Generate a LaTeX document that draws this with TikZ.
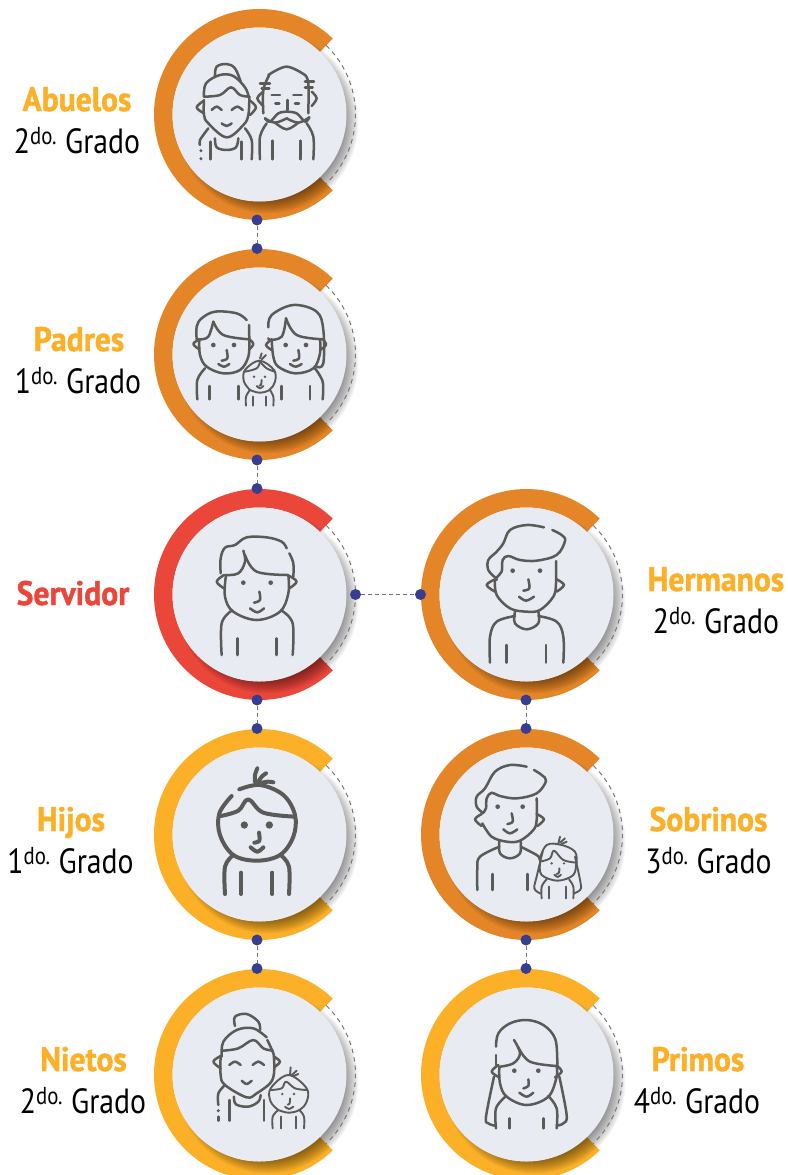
\documentclass[tikz,border=0pt]{standalone}
\usepackage{fontspec}
\setmainfont{PT Sans}[FakeStretch=0.85]
\newfontfamily\namefont{PT Sans}[FakeStretch=0.93,BoldFeatures={FakeBold=1.3}]
\usetikzlibrary{calc}
\definecolor{ringorange}{HTML}{E48527}
\definecolor{ringred}{HTML}{EA463A}
\definecolor{ringyellow}{HTML}{FBB028}
\definecolor{discgray}{HTML}{E9EBF2}
\definecolor{dotblue}{HTML}{373D8F}
\definecolor{linegray}{HTML}{777777}
\definecolor{icongray}{HTML}{5A5A58}
\tikzset{
  dot/.style={circle,fill=dotblue,inner sep=0pt,minimum size=11pt},
  link/.style={draw=linegray,line width=1pt,dash pattern=on 4pt off 3pt},
  title/.style={anchor=base,inner sep=0pt,font=\namefont\fontsize{34}{34}\selectfont\bfseries,text=ringyellow},
  grade/.style={anchor=base,inner sep=0pt,font=\fontsize{35}{35}\selectfont,text=black},
  iconline/.style={draw=icongray,line cap=round,line join=round},
  icon/.style={scale=1/3,line width=2.5pt},
}
\begin{document}
\begin{tikzpicture}[x=1pt,y=-1pt]
%
\def\ro{105.5};
\def\ri{87};
\def\rd{96};
\def\cut{46};
%
\useasboundingbox (0,0) rectangle (787,1175);
\clip (0,0) rectangle (787,1175);
%
% ring, shadow, dashed arc, disc
\def\badge#1#2#3#4{
  \coordinate (#1) at (#2,#3);
  \fill[#4] ($(#1)+(\cut:\ro)$) arc[start angle=\cut,end angle=360-\cut,radius=\ro]
    -- ($(#1)+(360-\cut:\ri)$) arc[start angle=360-\cut,end angle=\cut,radius=\ri] -- cycle;
  \foreach \r in {91,90,...,77}
    \fill[black,opacity=.035] ($(#1)+(8,8)$) circle (\r);
  \draw[linegray,line width=1pt,dash pattern=on 4.5pt off 4pt] ($(#1)+(360-\cut:\rd)$) arc[start angle=360-\cut,end angle=360+\cut,radius=\rd];
  \fill[discgray] (#1) circle (\ri);
};
\def\cv#1{\draw[iconline] plot[smooth,tension=.6] coordinates {#1};};
\def\eye#1#2{\fill[icongray] #1 circle (#2);};
%
\badge{abuelos}{259.5}{114.5}{ringorange}
\badge{padres}{259.5}{354.5}{ringorange}
\badge{servidor}{259.5}{594.5}{ringred}
\badge{hijos}{259.5}{834.5}{ringyellow}
\badge{nietos}{259.5}{1074.5}{ringyellow}
\badge{hermanos}{526.5}{594.5}{ringorange}
\badge{sobrinos}{526.5}{834.5}{ringorange}
\badge{primos}{526.5}{1074.5}{ringyellow}
%
\node[dot] (abuelosB) at (257,220) {};
\node[dot] (padresT) at (257,248.5) {};
\node[dot] (padresB) at (257,460) {};
\node[dot] (servidorT) at (257,488.5) {};
\node[dot] (servidorB) at (257,700) {};
\node[dot] (servidorR) at (355.5,594.5) {};
\node[dot] (hijosT) at (257,728.5) {};
\node[dot] (hijosB) at (257,940) {};
\node[dot] (nietosT) at (257,968.5) {};
\node[dot] (hermanosL) at (420.5,594.5) {};
\node[dot] (hermanosB) at (526,700) {};
\node[dot] (sobrinosT) at (526,728.5) {};
\node[dot] (sobrinosB) at (526,940) {};
\node[dot] (primosT) at (526,968.5) {};
%
\draw[link] (abuelosB)--(padresT);
\draw[link] (padresB)--(servidorT);
\draw[link] (servidorB)--(hijosT);
\draw[link] (hijosB)--(nietosT);
\draw[link] (servidorR)--(hermanosL);
\draw[link] (hermanosB)--(sobrinosT);
\draw[link] (sobrinosB)--(primosT);
%
\node[title] (abuelosName) at (77,111) {Abuelos};
\node[grade] (abuelosGrade) at (77,153.7) {2\textsuperscript{do.} Grado};
\node[title] (padresName) at (79,351) {Padres};
\node[grade] (padresGrade) at (78,393.7) {1\textsuperscript{do.} Grado};
\node[title,text=ringred] (servidorName) at (73,605) {Servidor};
\node[title] (hermanosName) at (716,591) {Hermanos};
\node[grade] (hermanosGrade) at (716,633.7) {2\textsuperscript{do.} Grado};
\node[title] (hijosName) at (71,831) {Hijos};
\node[grade] (hijosGrade) at (70.5,873.7) {1\textsuperscript{do.} Grado};
\node[title] (sobrinosName) at (708.5,831) {Sobrinos};
\node[grade] (sobrinosGrade) at (708.5,873.7) {3\textsuperscript{do.} Grado};
\node[title] (nietosName) at (83.5,1071) {Nietos};
\node[grade] (nietosGrade) at (83,1113.7) {2\textsuperscript{do.} Grado};
\node[title] (primosName) at (698,1071) {Primos};
\node[grade] (primosGrade) at (697,1113.7) {4\textsuperscript{do.} Grado};
%
% abuelos
\begin{scope}[shift={(0,0)},icon]
\cv{(645,228)(650,200)(680,192)(705,205)(722,245)}
\cv{(612,290)(618,250)(660,225)(700,228)(735,262)(746,290)}
\cv{(612,290)(660,285)(693,262)(720,285)(748,290)}
\cv{(612,302)(590,322)(612,340)}
\cv{(750,302)(768,322)(750,345)}
\cv{(612,300)(612,345)(625,370)(680,412)(730,375)(745,345)(748,290)}
\cv{(635,330)(650,320)(665,330)}
\cv{(695,330)(712,320)(728,330)}
\cv{(665,370)(680,378)(695,370)}
\cv{(645,415)(650,442)(680,450)(708,442)(715,415)}
\cv{(625,385)(600,420)(600,435)}
\eye{(603,452)}{5}
\eye{(603,476)}{5}
\cv{(632,425)(632,478)}
\cv{(725,425)(725,478)}
\cv{(735,385)(755,420)(755,478)}
\cv{(805,225)(860,200)(915,225)}
\cv{(780,250)(810,250)}
\cv{(785,265)(808,265)}
\cv{(915,245)(942,245)}
\cv{(915,262)(938,262)}
\cv{(790,275)(772,295)(790,318)}
\cv{(935,275)(950,295)(935,318)}
\cv{(808,225)(790,270)(790,340)}
\cv{(915,225)(925,250)(925,340)}
\cv{(815,285)(840,285)}
\cv{(880,285)(905,285)}
\cv{(826,310)(838,310)}
\cv{(885,310)(897,310)}
\cv{(862,300)(862,330)}
\cv{(860,335)(835,340)(810,365)(795,355)}
\cv{(795,355)(825,368)(860,355)}
\cv{(860,335)(890,340)(915,365)(928,352)}
\cv{(928,352)(895,368)(860,355)}
\cv{(825,368)(860,388)(895,368)}
\cv{(800,370)(780,410)(780,478)}
\cv{(920,370)(940,410)(940,478)}
\cv{(818,422)(818,478)}
\cv{(902,422)(902,478)}
\end{scope}
%
% padres
\begin{scope}[shift={(150,240)},icon]
\cv{(140,298)(140,260)(155,235)(195,215)(260,220)(290,240)}
\cv{(297,255)(298,300)}
\cv{(150,298)(175,290)(190,245)}
\cv{(190,245)(220,285)(298,298)}
\cv{(148,298)(130,312)(148,328)}
\cv{(298,298)(310,312)(298,328)}
\cv{(148,298)(150,345)(170,380)(220,400)(270,390)(295,350)(298,298)}
\eye{(190,315)}{7}
\eye{(252,315)}{7}
\cv{(230,330)(232,355)(215,362)}
\cv{(205,372)(222,380)(238,372)}
\cv{(165,385)(142,420)(142,478)}
\cv{(178,438)(178,478)}
\cv{(265,438)(265,478)}
\cv{(355,262)(365,225)(430,195)(500,215)(520,270)(520,370)(500,380)}
\cv{(355,295)(357,300)}
\cv{(357,300)(395,290)(408,235)}
\cv{(408,235)(440,285)(520,298)}
\cv{(365,298)(348,315)(365,330)}
\cv{(520,300)(528,315)(510,330)}
\cv{(365,298)(370,350)(385,380)(435,400)(490,385)(510,340)(510,298)}
\eye{(407,315)}{7}
\eye{(468,315)}{7}
\cv{(445,330)(447,355)(430,362)}
\cv{(420,372)(437,380)(455,372)}
\cv{(495,385)(518,425)(518,478)}
\cv{(395,438)(395,478)}
\cv{(480,438)(480,478)}
\begin{scope}[line width=1.9pt]
\cv{(300,450)(282,425)(285,390)(328,362)(372,390)(375,425)(358,450)(328,458)(300,450)}
\cv{(285,395)(320,385)(330,365)}
\cv{(330,365)(350,385)(375,395)}
\cv{(330,355)(335,340)}
\cv{(335,358)(348,345)}
\eye{(312,410)}{4}
\eye{(345,410)}{4}
\cv{(335,420)(333,435)(328,437)}
\cv{(320,438)(330,445)(340,438)}
\cv{(300,450)(288,470)(288,497)}
\cv{(360,450)(370,470)(370,497)}
\cv{(310,470)(310,497)}
\cv{(348,470)(348,497)}
\end{scope}
\end{scope}
%
% servidor
\begin{scope}[shift={(150,480)},icon]
\cv{(212,280)(212,235)(225,203)(255,195)(290,172)(350,172)(395,185)(410,205)}
\cv{(418,220)(430,250)(430,290)}
\cv{(225,285)(265,280)(285,245)(280,212)}
\cv{(285,225)(320,275)(415,285)}
\cv{(222,285)(200,305)(222,325)}
\cv{(418,288)(440,305)(418,325)}
\cv{(228,285)(225,350)(250,395)(320,420)(390,395)(415,340)(415,285)}
\eye{(280,308)}{7}
\eye{(362,308)}{7}
\cv{(328,335)(330,360)(312,368)}
\cv{(300,385)(322,397)(342,385)}
\cv{(245,392)(215,430)(215,525)}
\cv{(395,392)(428,430)(428,525)}
\cv{(262,475)(262,525)}
\cv{(380,475)(380,525)}
\end{scope}
%
% hermanos
\begin{scope}[shift={(340,480)},icon]
\cv{(612,142)(560,135)(510,150)(490,190)(470,215)(445,240)(445,270)(465,292)}
\cv{(637,150)(665,165)(675,183)(650,225)(590,242)(540,240)(505,228)(488,240)(485,275)(470,292)(470,300)}
\cv{(465,298)(440,315)(465,335)}
\cv{(650,298)(672,315)(650,335)}
\cv{(648,243)(648,310)(640,350)(600,390)(560,395)(510,385)(470,345)(465,300)}
\eye{(518,272)}{7}
\eye{(600,272)}{7}
\cv{(565,298)(568,325)(550,332)}
\cv{(537,350)(558,362)(582,350)}
\cv{(525,395)(525,430)(560,448)(595,430)(595,395)}
\cv{(525,408)(470,425)(450,470)(450,548)}
\cv{(595,408)(650,425)(670,470)(670,548)}
\cv{(500,495)(500,548)}
\cv{(618,495)(618,548)}
\end{scope}
%
% hijos
\begin{scope}[shift={(150,720)},icon,line width=4pt]
\cv{(268,208)(330,195)(400,225)(435,285)(430,350)(390,405)(320,422)(250,405)(210,345)(208,280)(245,228)}
\cv{(212,288)(265,272)(295,238)(340,278)(435,290)}
\cv{(315,185)(315,165)(322,145)}
\cv{(325,185)(335,170)(348,160)}
\cv{(335,188)(355,185)(370,187)}
\eye{(283,315)}{11}
\eye{(358,315)}{11}
\cv{(327,338)(328,362)(313,368)}
\cv{(302,382)(322,395)(340,382)}
\cv{(250,405)(225,440)(225,522)}
\cv{(392,405)(417,440)(417,522)}
\cv{(273,458)(273,522)}
\cv{(367,458)(367,522)}
\end{scope}
%
% sobrinos
\begin{scope}[shift={(420,720)},icon]
\cv{(320,140)(270,135)(225,155)(195,205)(170,230)(170,260)(188,278)}
\cv{(342,150)(365,165)(378,183)(350,220)(290,235)(240,228)(215,218)(200,235)(198,265)(188,280)}
\cv{(185,282)(165,298)(185,318)}
\cv{(350,282)(372,298)(352,318)}
\cv{(350,235)(350,300)(340,330)(300,362)(260,365)(215,350)(187,310)}
\eye{(233,260)}{7}
\eye{(308,260)}{7}
\cv{(275,280)(278,305)(262,312)}
\cv{(250,328)(270,340)(292,328)}
\cv{(238,365)(240,400)(270,415)(300,400)(302,365)}
\cv{(238,380)(180,410)(172,445)(172,510)}
\cv{(302,380)(350,405)(358,415)}
\cv{(218,462)(218,510)}
\cv{(323,462)(323,510)}
\begin{scope}[line width=1.9pt]
\cv{(358,420)(380,375)(425,375)(465,395)(470,430)}
\cv{(360,425)(390,415)(402,392)(430,420)(470,428)}
\cv{(360,430)(365,465)(413,482)(460,465)(468,430)}
\cv{(368,395)(350,470)(343,505)(360,520)}
\cv{(465,410)(482,490)(480,510)(462,520)}
\cv{(415,370)(420,350)}
\cv{(420,368)(435,355)}
\cv{(425,372)(440,365)}
\eye{(395,430)}{4}
\eye{(432,430)}{4}
\cv{(418,445)(417,458)(410,462)}
\cv{(403,464)(413,471)(423,464)}
\cv{(380,478)(365,500)(365,535)}
\cv{(447,478)(460,500)(460,535)}
\cv{(388,500)(388,535)}
\cv{(437,500)(437,535)}
\end{scope}
\end{scope}
%
% nietos
\begin{scope}[shift={(150,960)},icon]
\cv{(255,198)(255,170)(290,162)(325,185)(330,210)}
\cv{(215,290)(220,245)(260,210)(310,205)(350,232)}
\cv{(352,240)(370,280)(372,300)}
\cv{(218,272)(265,265)(310,240)(340,265)(368,272)}
\cv{(212,288)(190,305)(212,325)}
\cv{(372,290)(390,305)(372,322)}
\cv{(212,288)(212,345)(225,375)(290,412)(320,400)(360,370)(372,340)(372,290)}
\cv{(238,315)(255,305)(272,315)}
\cv{(308,315)(325,305)(342,315)}
\cv{(275,362)(290,372)(305,362)}
\cv{(252,410)(258,433)(295,440)(325,425)(332,405)}
\cv{(225,375)(205,400)(205,435)}
\eye{(205,452)}{5}
\cv{(205,470)(205,482)}
\cv{(238,420)(238,482)}
\cv{(342,420)(342,482)}
\begin{scope}[line width=1.9pt]
\cv{(385,450)(362,425)(362,385)(415,345)(470,385)(470,425)(448,450)(415,458)(385,450)}
\cv{(362,390)(395,385)(408,365)(435,385)(470,390)}
\cv{(420,345)(422,322)}
\cv{(425,345)(440,332)}
\cv{(430,348)(445,342)}
\eye{(397,402)}{4}
\eye{(432,402)}{4}
\cv{(420,415)(419,430)(413,434)}
\cv{(405,440)(417,447)(430,440)}
\cv{(385,450)(368,470)(368,505)}
\cv{(448,450)(462,470)(462,505)}
\cv{(392,470)(392,505)}
\cv{(437,470)(437,505)}
\end{scope}
\end{scope}
%
% primos
\begin{scope}[shift={(420,960)},icon]
\cv{(228,260)(235,220)(270,190)(320,180)(370,195)(405,235)(412,300)(412,320)}
\cv{(228,285)(228,315)}
\cv{(240,320)(280,310)(300,280)(282,240)}
\cv{(295,262)(330,305)(410,318)}
\cv{(235,315)(215,335)(238,352)}
\cv{(412,318)(425,335)(405,352)}
\cv{(238,320)(240,370)(260,410)(320,435)(385,410)(410,350)(410,320)}
\eye{(283,332)}{7}
\eye{(355,332)}{7}
\cv{(325,358)(325,378)(310,385)}
\cv{(298,398)(320,410)(340,398)}
\cv{(222,350)(198,470)(205,490)(225,497)}
\cv{(418,350)(440,465)(430,490)(410,497)}
\cv{(258,408)(228,445)(228,505)}
\cv{(385,408)(410,445)(410,505)}
\cv{(268,475)(268,505)}
\cv{(370,475)(370,505)}
\end{scope}
%
\end{tikzpicture}
\end{document}
